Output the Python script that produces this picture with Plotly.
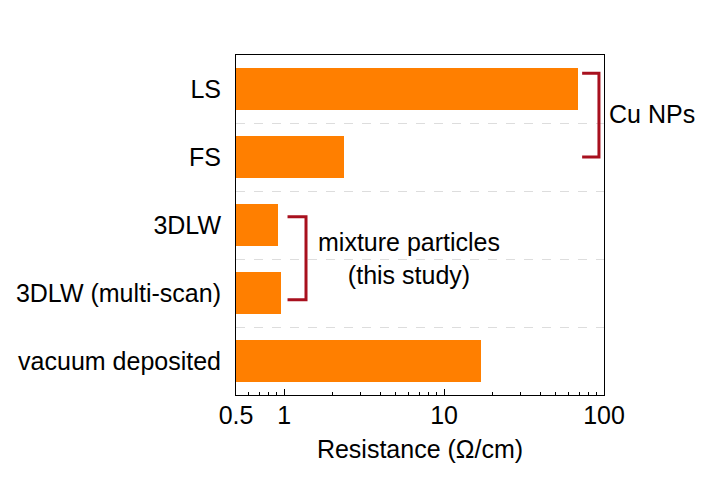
import math
import plotly.graph_objects as go

categories = ["LS", "FS", "3DLW", "3DLW (multi-scan)", "vacuum deposited"]
resistance = [68.5, 2.37, 0.917, 0.954, 16.9]
x_tickvals = [0.5, 1, 10, 100]
x_ticktext = ["0.5", "1", "10", "100"]

# bracket groups: (first index, last index, label)
cu_group = [0, 1]
mix_group = [2, 3]

FONT = "Liberation Sans, Arial, sans-serif"
FS = 25
BAR = "#FF7F00"
BRACKET = "#A8101E"

idx = list(range(len(categories)))

fig = go.Figure()
fig.add_trace(go.Bar(
    y=idx, x=resistance, orientation="h", width=0.61,
    marker=dict(color=BAR, line=dict(width=0)),
    showlegend=False, hoverinfo="x+text", text=categories, textposition="none",
))

# Cu NPs bracket (right side)
cx_in, cx_out = 73, 93
cy0, cy1 = cu_group[0] - 0.23, cu_group[1] + 0.0
fig.add_trace(go.Scatter(
    x=[cx_in, cx_out, cx_out, cx_in], y=[cy0, cy0, cy1, cy1],
    mode="lines", line=dict(color=BRACKET, width=3),
    showlegend=False, hoverinfo="skip", cliponaxis=False,
))
# mixture particles bracket
mx_in, mx_out = 1.05, 1.37
my0, my1 = mix_group[0] - 0.12, mix_group[1] + 0.1
fig.add_trace(go.Scatter(
    x=[mx_in, mx_out, mx_out, mx_in], y=[my0, my0, my1, my1],
    mode="lines", line=dict(color=BRACKET, width=3),
    showlegend=False, hoverinfo="skip", cliponaxis=False,
))

fig.add_annotation(
    x=1.0, xref="x domain", xanchor="left", xshift=3,
    y=0.37, yref="y", text="Cu NPs", showarrow=False,
    font=dict(family=FONT, size=FS, color="black"), bgcolor="white",
)
fig.add_annotation(
    x=0.47, xref="x domain", xanchor="center",
    y=2.49, yref="y", text="mixture particles<br>(this study)", showarrow=False,
    align="center", font=dict(family=FONT, size=FS, color="black"),
)

fig.update_layout(
    width=711, height=481,
    margin=dict(l=228, r=115, t=47, b=94),
    paper_bgcolor="white", plot_bgcolor="white",
    font=dict(family=FONT, size=FS, color="black"),
    bargap=0,
)
fig.update_xaxes(
    type="log", range=[math.log10(0.5), 2], automargin=False,
    tickvals=x_tickvals, ticktext=x_ticktext,
    ticks="inside", ticklen=6, tickwidth=1, tickcolor="black",
    minor=dict(ticks="inside", ticklen=3, tickcolor="black",
               tickvals=[0.6, 0.7, 0.8, 0.9, 2, 3, 4, 5, 6, 7, 8, 9, 20, 30, 40, 50, 60, 70, 80, 90],
               showgrid=False),
    showline=True, linecolor="black", linewidth=1, mirror=True,
    showgrid=False, zeroline=False,
    title=dict(text="Resistance (Ω/cm)", font=dict(size=FS), standoff=12),
    tickfont=dict(size=FS), ticklabelstandoff=-2,
)
fig.update_yaxes(
    range=[len(categories) - 0.5, -0.5], automargin=False,
    tickvals=idx, ticktext=categories, ticks="",
    tickfont=dict(size=FS), ticklabelstandoff=9,
    showline=True, linecolor="black", linewidth=1, mirror=True,
    showgrid=False, zeroline=False,
    minor=dict(tickvals=[i + 0.5 for i in idx[:-1]], showgrid=True,
               gridcolor="#dddddd", griddash="dash", gridwidth=1, ticks=""),
)

fig.write_html("out.html")
